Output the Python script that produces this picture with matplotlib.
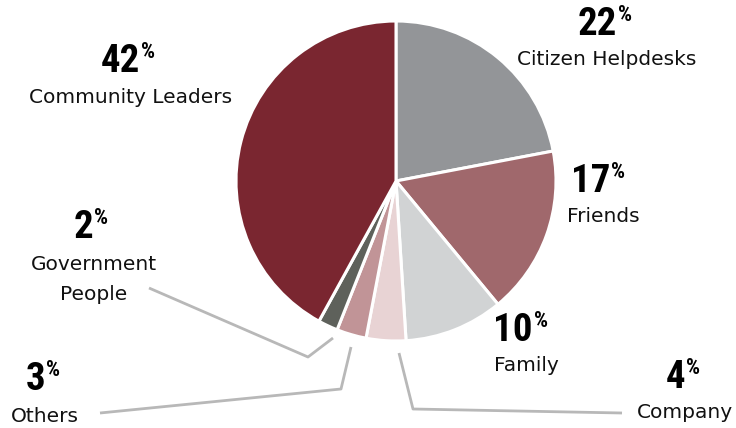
import matplotlib.pyplot as plt

# share of respondents by source of information
labels = ["Citizen Helpdesks", "Friends", "Family", "Company", "Others",
          "Government\nPeople", "Community Leaders"]
shares = [22, 17, 10, 4, 3, 2, 42]
colors = ["#939598", "#a0686c", "#d1d3d4", "#e8d3d4", "#c19497", "#5e615b", "#7a2630"]

# pixel anchors: right edge + baseline of the big number, centre + baseline of the caption
num_pos = [(617, 35), (610, 192), (533, 341), (685, 388), (45, 390), (93, 238), (140, 72)]
txt_pos = [(607, 65), (603, 222), (526, 371), (685, 418), (45, 422), (94, 270), (131, 103)]

W, H = 736, 428
NUM_FONT = ["Roboto Condensed", "DejaVu Sans"]
TXT_FONT = ["DejaVu Sans"]
LINE_COLOR = "#b8b8b8"

fig = plt.figure(figsize=(W / 100, H / 100), dpi=100)
ax = fig.add_axes([0, 0, 1, 1])

ax.pie(shares, colors=colors, center=(396, H - 181), radius=160,
       startangle=90, counterclock=False,
       wedgeprops=dict(edgecolor="white", linewidth=2.2))
ax.set_xlim(0, W)
ax.set_ylim(0, H)
ax.set_aspect("equal")
ax.axis("off")

# leader lines for the small slices
leaders = [
    [(149, 288), (308, 357), (333, 338)],   # Government People
    [(100, 413), (341, 389), (351, 347)],   # Others
    [(399, 353), (413, 409), (622, 413)],   # Company
]
for pts in leaders:
    xs = [p[0] for p in pts]
    ys = [H - p[1] for p in pts]
    ax.plot(xs, ys, color=LINE_COLOR, lw=2, solid_capstyle="butt", zorder=1)

for lab, val, (nx, ny), (tx, ty) in zip(labels, shares, num_pos, txt_pos):
    num = ax.text(nx, H - ny, str(val), ha="right", va="baseline",
                  family=NUM_FONT, fontweight="bold", fontsize=28, color="black")
    ax.annotate("%", xy=(1.0, H - (ny - 14)), xycoords=(num, "data"),
                xytext=(1, 0), textcoords="offset pixels",
                ha="left", va="baseline",
                family=NUM_FONT, fontweight="bold", fontsize=16, color="black")
    for i, line in enumerate(lab.split("\n")):
        ax.text(tx, H - (ty + 30 * i), line, ha="center", va="baseline",
                family=TXT_FONT, fontsize=14.5, color="#111111")

fig.savefig("out.png", dpi=100)
